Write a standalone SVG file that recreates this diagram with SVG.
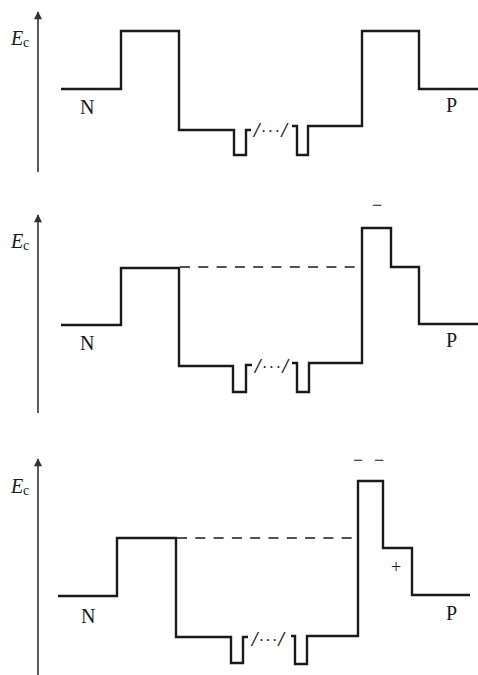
<svg xmlns="http://www.w3.org/2000/svg" width="478" height="675" viewBox="0 0 478 675">
<defs>
<marker id="arr" viewBox="0 0 10 10" refX="9" refY="5" markerWidth="10" markerHeight="8" markerUnits="userSpaceOnUse" orient="auto">
<path d="M0,0 L10,5 L0,10 Z" fill="#333"/>
</marker>
</defs>
<style>
.axis{stroke:#333;stroke-width:1.6;fill:none}
.band{stroke:#1a1a1a;stroke-width:2.4;fill:none;stroke-linejoin:miter;stroke-linecap:butt}
.dash{stroke:#1a1a1a;stroke-width:1.4;fill:none;stroke-dasharray:10 8.3}
.lbl{font-family:"Liberation Serif","Times New Roman",serif;font-size:20px;fill:#1a1a1a}
.E{font-family:"Liberation Serif","Times New Roman",serif;font-size:20px;font-style:italic;fill:#1a1a1a}
.sub{font-family:"Liberation Serif","Times New Roman",serif;font-size:14px;fill:#1a1a1a}
.brk{font-family:"Liberation Serif","Times New Roman",serif;font-size:20px;font-style:italic;font-weight:bold;fill:#1a1a1a}
.dots{font-weight:normal;font-style:normal;font-size:16px}
.sgn{font-family:"Liberation Serif","Times New Roman",serif;font-size:18px;fill:#1a1a1a}
</style>
<g id="connectors">
<line class="axis" x1="38" y1="172" x2="38" y2="12" marker-end="url(#arr)"/>
<line class="axis" x1="38" y1="413" x2="38" y2="215" marker-end="url(#arr)"/>
<line class="axis" x1="38" y1="675" x2="38" y2="459" marker-end="url(#arr)"/>
</g>
<g id="panel1">
<text class="E" x="11" y="45">E</text><text class="sub" x="23" y="47">c</text>
<path class="band" d="M61,89 H121 V31 H179 V130 H234 V155 H246 V130 H251"/>
<path class="band" d="M292,126 H297 V155 H308 V126 H362 V31 H419 V89 H478"/>
<text class="brk" x="254" y="137" textLength="33" lengthAdjust="spacing">/<tspan class="dots">···</tspan>/</text>
<text class="lbl" x="80" y="114">N</text>
<text class="lbl" x="446" y="112">P</text>
</g>
<g id="panel2">
<text class="E" x="11" y="248">E</text><text class="sub" x="23" y="250">c</text>
<path class="band" d="M61,325 H121 V268 H179 V366 H233 V392 H246 V365 H252"/>
<path class="band" d="M292,363 H297 V392 H309 V363 H362 V228 H391 V267 H419 V324 H478"/>
<path class="dash" d="M180,267 H358"/>
<text class="brk" x="255" y="373" textLength="33" lengthAdjust="spacing">/<tspan class="dots">···</tspan>/</text>
<text class="sgn" x="377" y="211" text-anchor="middle">−</text>
<text class="lbl" x="80" y="350">N</text>
<text class="lbl" x="446" y="347">P</text>
</g>
<g id="panel3">
<text class="E" x="11" y="493">E</text><text class="sub" x="23" y="495">c</text>
<path class="band" d="M58,596 H117 V538 H176 V637 H231 V663 H243 V637 H248"/>
<path class="band" d="M291,636 H295 V664 H307 V636 H358 V481 H383 V548 H412 V595 H470"/>
<path class="dash" d="M177,538 H355"/>
<text class="brk" x="252" y="646" textLength="32" lengthAdjust="spacing">/<tspan class="dots">···</tspan>/</text>
<text class="sgn" x="358" y="466" text-anchor="middle">−</text>
<text class="sgn" x="379" y="466" text-anchor="middle">−</text>
<text class="sgn" x="396" y="573" text-anchor="middle">+</text>
<text class="lbl" x="81" y="623">N</text>
<text class="lbl" x="446" y="620">P</text>
</g>
</svg>
